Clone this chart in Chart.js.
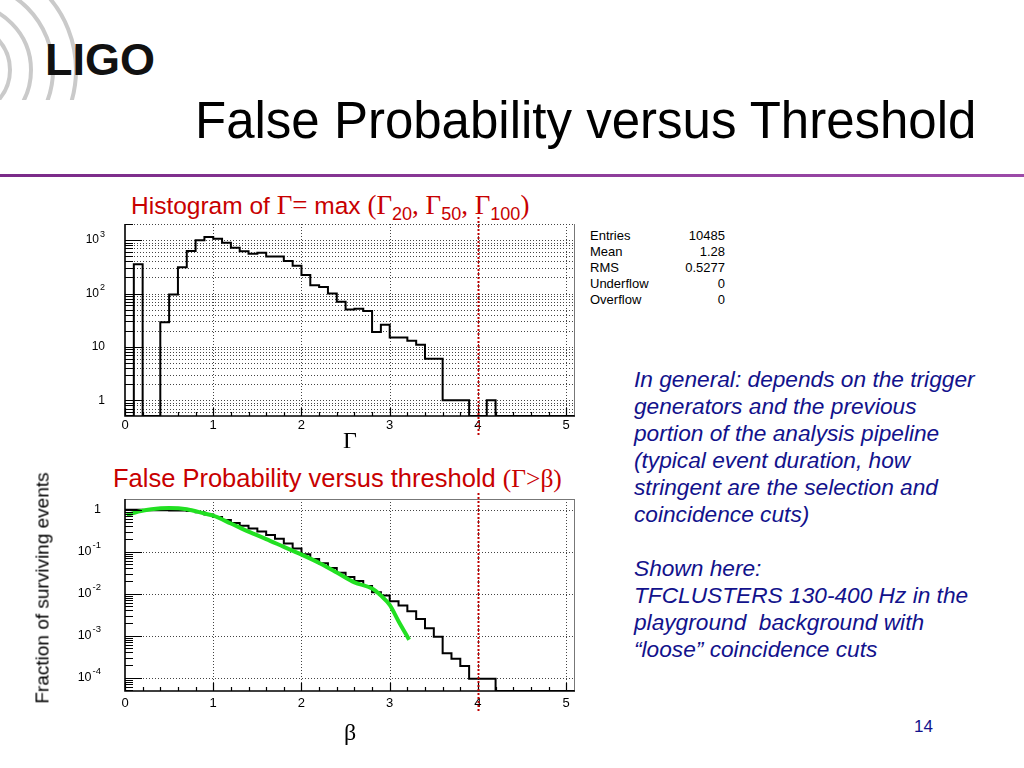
<!DOCTYPE html>
<html>
<head>
<meta charset="utf-8">
<script src="https://cdn.jsdelivr.net/npm/chart.js@4.4.1/dist/chart.umd.min.js"></script>
<style>
  body { margin: 0; width: 1024px; height: 768px; background: #fff; position: relative; overflow: hidden;
         font-family: "Liberation Sans", Arial, sans-serif; }
  .abs { position: absolute; white-space: nowrap; }
  .g { font-family: "Liberation Serif", "Times New Roman", serif; }
  .red { color: #c80000; line-height: 26px; }
  .red .g { font-size: 27px; }
  .red sub { font-size: 18px; vertical-align: -6px; line-height: 0; }
  .stats { font-size: 13px; line-height: 16px; color: #000; }
  .blue { color: #12128c; font-style: italic; font-size: 22.7px; line-height: 27px; }
</style>
</head>
<body>
<svg class="abs" style="left:0;top:0" width="200" height="100">
  <g fill="none" stroke="#cacaca" stroke-width="4">
    <circle cx="-35" cy="70" r="45"/>
    <circle cx="-35" cy="70" r="66"/>
    <circle cx="-35" cy="70" r="88"/>
    <circle cx="-35" cy="70" r="111"/>
  </g>
</svg>
<div class="abs" style="left:45px;top:38px;font-size:45px;line-height:44px;font-weight:bold;color:#111">LIGO</div>
<div class="abs" style="left:195px;top:95px;font-size:51px;line-height:51px;color:#000">False Probability versus Threshold</div>
<div class="abs" style="left:0;top:174px;width:1024px;height:3px;background:linear-gradient(to right,#7a2a88,#9c4aa8)"></div>

<div class="abs red" style="left:131px;top:192px;font-size:24.5px">Histogram of <span class="g">Γ=</span> max <span class="g">(Γ</span><sub>20</sub><span class="g">, Γ</span><sub>50</sub><span class="g">, Γ</span><sub>100</sub><span class="g">)</span></div>
<div class="abs red" style="left:113px;top:465px;font-size:25.5px">False Probability versus threshold <span class="g" style="font-size:25.5px">(Γ&gt;β)</span></div>

<div class="abs" style="left:60px;top:200px"><canvas id="histTop" width="530" height="250"></canvas></div>
<div class="abs" style="left:40px;top:480px"><canvas id="histBottom" width="550" height="250"></canvas></div>

<div class="abs g" style="left:343px;top:428px;font-size:24px;line-height:24px">Γ</div>
<div class="abs g" style="left:344px;top:720px;font-size:24px;line-height:24px">β</div>
<div class="abs" style="left:42px;top:588px;font-size:19px;line-height:19px;transform:translate(-50%,-50%) rotate(-90deg)">Fraction of surviving events</div>

<div class="abs stats" style="left:590px;top:228px">Entries<br>Mean<br>RMS<br>Underflow<br>Overflow</div>
<div class="abs stats" style="left:625px;top:228px;width:100px;text-align:right">10485<br>1.28<br>0.5277<br>0<br>0</div>

<div class="abs blue" style="left:634px;top:366px">In general: depends on the trigger<br>generators and the previous<br>portion of the analysis pipeline<br>(typical event duration, how<br>stringent are the selection and<br>coincidence cuts)<br><br>Shown here:<br>TFCLUSTERS 130-400 Hz in the<br>playground&nbsp; background with<br>“loose” coincidence cuts</div>
<div class="abs" style="left:914px;top:717px;font-size:17px;line-height:20px;color:#12128c">14</div>

<script>
// bin edges of the Gamma histogram (width 0.1)
const binEdges = [0.0, 0.1, 0.2, 0.3, 0.4, 0.5, 0.6, 0.7, 0.8, 0.9,
                  1.0, 1.1, 1.2, 1.3, 1.4, 1.5, 1.6, 1.7, 1.8, 1.9,
                  2.0, 2.1, 2.2, 2.3, 2.4, 2.5, 2.6, 2.7, 2.8, 2.9,
                  3.0, 3.1, 3.2, 3.3, 3.4, 3.5, 3.6, 3.7, 3.8, 3.9,
                  4.0, 4.1, 4.2, 4.3, 4.4, 4.5, 4.6, 4.7, 4.8, 4.9,
                  5.0, 5.1];

// counts per bin, top histogram
const gammaCounts = [0, 355, 0, 0, 29, 96, 309, 624, 991, 1143,
                     1062, 892, 720, 617, 556, 577, 496, 496, 405, 331,
                     221, 142, 132, 100, 70, 50, 52, 47, 19, 26,
                     15, 15, 13, 11, 6, 6, 1, 1, 1, 0,
                     0, 1, 0, 0, 0, 0, 0, 0, 0, 0,
                     0];

// fraction of events with Gamma > beta, bottom histogram
const survivingFraction = [1.0, 1.0, 0.9666, 0.9666, 0.9666, 0.9639, 0.9548, 0.9258, 0.867, 0.7738,
                           0.6663, 0.5663, 0.4824, 0.4147, 0.3566, 0.3043, 0.25, 0.2033, 0.1567, 0.1186,
                           0.0874, 0.0666, 0.0533, 0.0408, 0.0314, 0.0248, 0.0201, 0.0152, 0.0108, 0.009,
                           0.0066, 0.0052, 0.0038, 0.0025, 0.0015, 0.00094, 0.00038, 0.00028, 0.00019, 0.000094,
                           0.000094, 0.000094, 0, 0, 0, 0, 0, 0, 0, 0,
                           0];

// green fit curve
const fitBeta = [0.02, 0.15, 0.3, 0.5, 0.7, 0.9, 1.0, 1.2, 1.4, 1.6, 1.8, 2.0, 2.2, 2.4, 2.6, 2.8, 2.9, 3.0, 3.1, 3.22];
const fitFraction = [0.74, 0.9, 1.03, 1.1, 1.03, 0.81, 0.72, 0.47, 0.3, 0.2, 0.13, 0.085, 0.054, 0.032, 0.0186, 0.0132, 0.009, 0.0054, 0.0022, 0.0008];

const xTickLabels = [0, 1, 2, 3, 4, 5];
const xGridLines = [1, 2, 3, 4, 5];
const threshold = 4;

Chart.defaults.font.family = '"Liberation Sans", Arial, sans-serif';

// histogram outline: one point per left edge plus the closing right edge
function stepPoints(values, floor) {
  const pts = values.map((v, i) => ({ x: binEdges[i], y: v > 0 ? v : floor }));
  const last = values[values.length - 1];
  pts.push({ x: binEdges[values.length], y: last > 0 ? last : floor });
  return pts;
}

function logValues(min, max, minor) {
  const out = [];
  for (let n = Math.floor(Math.log10(min)); n <= Math.ceil(Math.log10(max)); n++) {
    for (let m = 1; m <= 9; m++) {
      if (!minor && m > 1) break;
      const v = m * Math.pow(10, n);
      if (v >= min * 0.999 && v <= max * 1.001) out.push({ v, m, n });
    }
  }
  return out;
}

// ROOT style frame, dotted grid, inner ticks and 10^n labels
function rootAxes(o) {
  return {
    id: 'rootAxes',
    beforeDatasetsDraw(chart) {
      const { ctx, chartArea: a, scales: { x, y } } = chart;
      ctx.save();
      ctx.strokeStyle = '#444';
      ctx.lineWidth = 1;
      ctx.setLineDash([1, 2]);
      ctx.beginPath();
      xGridLines.forEach(v => {
        const px = Math.round(x.getPixelForValue(v)) + 0.5;
        ctx.moveTo(px, a.top); ctx.lineTo(px, a.bottom);
      });
      logValues(y.min, y.max, o.minorGrid).forEach(t => {
        const py = Math.round(y.getPixelForValue(t.v)) + 0.5;
        ctx.moveTo(a.left, py); ctx.lineTo(a.right, py);
      });
      ctx.stroke();
      ctx.restore();
    },
    afterDatasetsDraw(chart) {
      const { ctx, chartArea: a, scales: { x, y } } = chart;
      ctx.save();
      // frame
      ctx.strokeStyle = '#777';
      ctx.lineWidth = 1;
      ctx.beginPath();
      if (o.solidTop) { ctx.moveTo(a.left, a.top + 0.5); ctx.lineTo(a.right, a.top + 0.5); }
      ctx.moveTo(a.right - 0.5, a.top); ctx.lineTo(a.right - 0.5, a.bottom);
      ctx.stroke();
      ctx.strokeStyle = '#000';
      ctx.lineWidth = 1.6;
      ctx.beginPath();
      ctx.moveTo(a.left, a.top); ctx.lineTo(a.left, a.bottom); ctx.lineTo(a.right, a.bottom);
      ctx.stroke();
      // y ticks inside
      ctx.lineWidth = 1.2;
      ctx.beginPath();
      logValues(y.min, y.max, true).forEach(t => {
        const py = Math.round(y.getPixelForValue(t.v)) + 0.5;
        const len = t.m === 1 ? 17 : 8;
        ctx.moveTo(a.left, py); ctx.lineTo(a.left + len, py);
      });
      // x ticks inside
      for (let i = 0; i <= 25; i++) {
        const v = i * 0.2;
        const px = Math.round(x.getPixelForValue(v)) + 0.5;
        const len = i % 5 === 0 ? 8 : 4;
        ctx.moveTo(px, a.bottom); ctx.lineTo(px, a.bottom - len);
      }
      ctx.stroke();
      // decade labels
      ctx.fillStyle = '#000';
      ctx.textBaseline = 'middle';
      ctx.textAlign = 'left';
      const big = o.labelSize + 'px "Liberation Sans", Arial, sans-serif';
      const small = (o.labelSize - 3) + 'px "Liberation Sans", Arial, sans-serif';
      logValues(y.min, y.max, false).forEach(t => {
        const py = y.getPixelForValue(t.v);
        const base = t.n === 0 ? '1' : '10';
        const exp = (t.n === 0 || t.n === 1) ? '' : String(t.n);
        ctx.font = big;
        const wBase = ctx.measureText(base).width;
        ctx.font = small;
        const wExp = exp ? ctx.measureText(exp).width + 1 : 0;
        const x0 = o.labelRight - wBase - wExp;
        ctx.font = big;
        ctx.fillText(base, x0, py);
        if (exp) {
          ctx.font = small;
          ctx.fillText(exp, x0 + wBase + 1, py - 6);
        }
      });
      // red threshold line
      const rx = Math.round(x.getPixelForValue(threshold)) + 0.5;
      ctx.strokeStyle = '#c00000';
      ctx.lineWidth = 2;
      ctx.setLineDash([2, 2]);
      ctx.beginPath();
      ctx.moveTo(rx, a.top - o.redTop); ctx.lineTo(rx, a.bottom + o.redBottom);
      ctx.stroke();
      ctx.restore();
    }
  };
}

function baseOptions(yMin, yMax, padTop, yWidth, xHeight, tickPad) {
  return {
    responsive: false,
    animation: false,
    layout: { padding: { top: padTop, right: 15, left: 0, bottom: 0 } },
    plugins: { legend: { display: false }, tooltip: { enabled: false } },
    scales: {
      x: {
        type: 'linear', min: 0, max: 5.1,
        afterBuildTicks: s => { s.ticks = xTickLabels.map(v => ({ value: v })); },
        grid: { display: false, drawTicks: false },
        border: { display: false },
        ticks: { padding: tickPad, color: '#000', font: { size: 13 }, maxRotation: 0 },
        afterFit: s => { s.height = xHeight; }
      },
      y: {
        type: 'logarithmic', min: yMin, max: yMax,
        grid: { display: false, drawTicks: false },
        border: { display: false },
        ticks: { display: false },
        afterFit: s => { s.width = yWidth; }
      }
    }
  };
}

const topMin = 0.507, topMax = 2005;
new Chart(document.getElementById('histTop'), {
  type: 'line',
  data: {
    datasets: [{
      data: stepPoints(gammaCounts, topMin),
      stepped: 'before',
      borderColor: '#000',
      borderWidth: 2,
      pointRadius: 0,
      fill: false
    }]
  },
  options: baseOptions(topMin, topMax, 24, 65, 34, 2),
  plugins: [rootAxes({ minorGrid: true, solidTop: false, labelSize: 12, labelRight: 45, redTop: 7, redBottom: 21 })]
});

const botMin = 4.8e-5, botMax = 1.8;
new Chart(document.getElementById('histBottom'), {
  type: 'line',
  data: {
    datasets: [{
      data: fitBeta.map((b, i) => ({ x: b, y: fitFraction[i] })),
      borderColor: '#22e022',
      borderWidth: 4,
      pointRadius: 0,
      cubicInterpolationMode: 'monotone',
      fill: false
    }, {
      data: stepPoints(survivingFraction, botMin),
      stepped: 'before',
      borderColor: '#000',
      borderWidth: 2,
      pointRadius: 0,
      fill: false
    }]
  },
  options: baseOptions(botMin, botMax, 19, 85, 39, 5),
  plugins: [rootAxes({ minorGrid: false, solidTop: true, labelSize: 12.5, labelRight: 61, redTop: 6, redBottom: 21 })]
});
</script>
</body>
</html>
